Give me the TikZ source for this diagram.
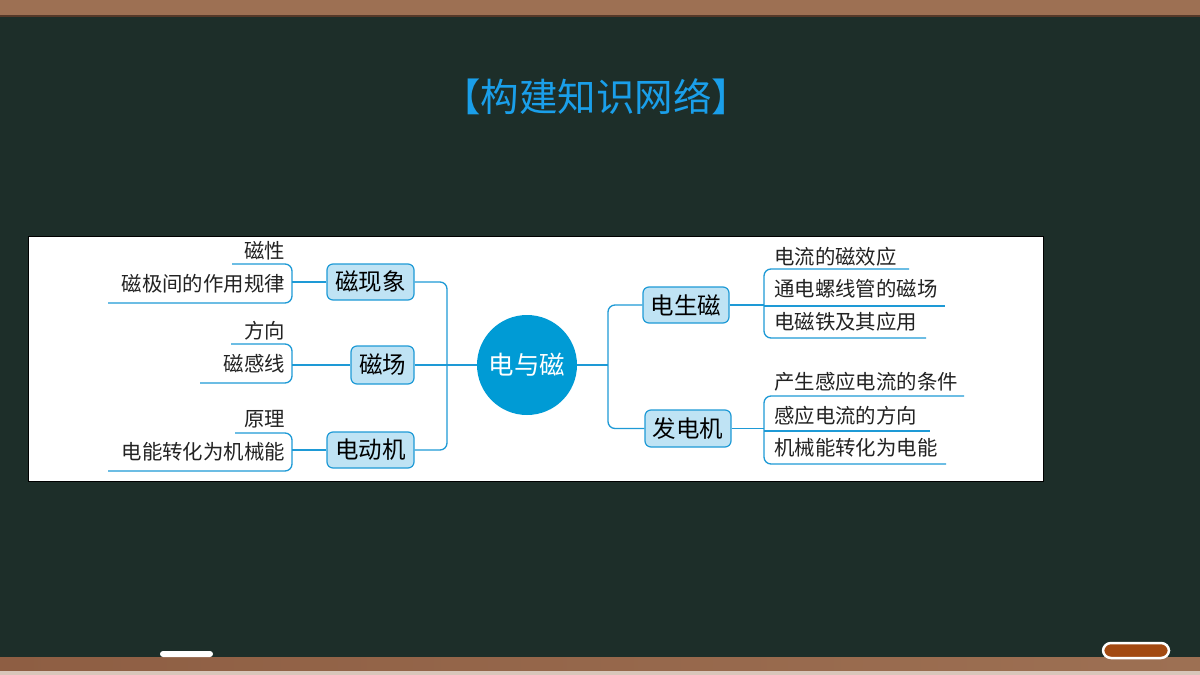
\documentclass[tikz,border=0pt]{standalone}
\usepackage{fontspec}
\setmainfont{Noto Sans CJK SC}
\begin{document}
\begin{tikzpicture}[x=1pt,y=-1pt,
  conn/.style={draw=lineblue,line width=1.3pt,rounded corners=7pt},
  topic/.style={draw=lineblue,fill=topicfill,line width=1.2pt,rounded corners=6pt,font=\fontsize{23.5}{25}\selectfont,inner sep=0pt,text=black},
  leafL/.style={anchor=east,inner sep=0pt,font=\fontsize{20.4}{22}\selectfont,text=leaftext},
  leafR/.style={anchor=west,inner sep=0pt,font=\fontsize{20.4}{22}\selectfont,text=leaftext}]
\definecolor{board}{HTML}{1D2E29}
\definecolor{wood}{HTML}{9D7053}
\definecolor{wooddark}{HTML}{8E5E43}
\definecolor{lineblue}{HTML}{1E9AD6}
\definecolor{topicfill}{HTML}{BFE3F4}
\definecolor{centerfill}{HTML}{009BD5}
\definecolor{titleblue}{HTML}{1A9FEA}
\definecolor{leaftext}{HTML}{222222}
\definecolor{eraser}{HTML}{A34A12}
\useasboundingbox (0,0) rectangle (1200,675);
% background
\fill[board] (0,0) rectangle (1200,675);
\fill[wood] (0,0) rectangle (1200,15);
\fill[wooddark!60!black] (0,15) rectangle (1200,16.5);
\shade[left color=wooddark,right color=wood] (0,657) rectangle (1200,675);
\fill[wood!40!white] (0,671) rectangle (1200,675);
% chalk and eraser
\fill[white,rounded corners=3pt] (160,651) rectangle (213,657);
\draw[white,line width=2.5pt,fill=eraser,rounded corners=8pt] (1103,643) rectangle (1169,658);
% title
\node (title) at (596,97) {\fontsize{38.5}{40}\selectfont\color{titleblue}【构建知识网络】};
% panel
\draw[black,line width=1pt,fill=white] (28,236) rectangle (1043,481);
% center
\node[circle,fill=centerfill,minimum size=100pt,inner sep=0pt,text=white,font=\fontsize{25.5}{27}\selectfont] (c) at (527,365) {电与磁};
% topics
\node[topic,minimum width=87pt,minimum height=36pt] (t1) at (370.5,282) {磁现象};
\node[topic,minimum width=63pt,minimum height=38pt] (t2) at (382.5,365) {磁场};
\node[topic,minimum width=87pt,minimum height=36pt] (t3) at (370.5,450) {电动机};
\node[topic,minimum width=86pt,minimum height=36pt] (t4) at (686,305) {电生磁};
\node[topic,minimum width=86pt,minimum height=37pt] (t5) at (688,428.5) {发电机};
% leaves left
\node[leafL] (l1) at (285,251) {磁性};
\node[leafL] (l2) at (285,284) {磁极间的作用规律};
\node[leafL] (l3) at (285,331) {方向};
\node[leafL] (l4) at (285,364) {磁感线};
\node[leafL] (l5) at (285,419) {原理};
\node[leafL] (l6) at (285,452) {电能转化为机械能};
% leaves right
\node[leafR] (r1) at (774,257) {电流的磁效应};
\node[leafR] (r2) at (774,289) {通电螺线管的磁场};
\node[leafR] (r3) at (774,322) {电磁铁及其应用};
\node[leafR] (r4) at (774,382) {产生感应电流的条件};
\node[leafR] (r5) at (774,416) {感应电流的方向};
\node[leafR] (r6) at (774,448) {机械能转化为电能};
% coordinates
\coordinate (bl1) at (292,282);
\coordinate (bl2) at (292,365);
\coordinate (bl3) at (292,450);
\coordinate (br1) at (764,305);
\coordinate (br2) at (764,428.5);
\coordinate (bcr) at (608,365);
% main connectors
\draw[conn] (t1.east) -- (447,282) -- (447,450) -- (t3.east);
\draw[conn] (t2.east) -- (c.west);
\draw[conn] (c.east) -- (bcr);
\draw[conn] (t4.west) -- (608,305) -- (608,428.5) -- (t5.west);
% left leaf connectors
\draw[conn] (t1.west) -- (bl1);
\draw[conn] (232,264) -- (292,264) -- (292,303) -- (108,303);
\draw[conn] (t2.west) -- (bl2);
\draw[conn] (231,344) -- (292,344) -- (292,383) -- (200,383);
\draw[conn] (t3.west) -- (bl3);
\draw[conn] (235,433) -- (292,433) -- (292,471) -- (108,471);
% right leaf connectors
\draw[conn] (t4.east) -- (br1);
\draw[conn] (909,269) -- (764,269) -- (764,338) -- (926,338);
\draw[conn] (764,306) -- (945,306);
\draw[conn] (t5.east) -- (br2);
\draw[conn] (964,396) -- (764,396) -- (764,464) -- (946,464);
\draw[conn] (764,431) -- (930,431);
\end{tikzpicture}
\end{document}
